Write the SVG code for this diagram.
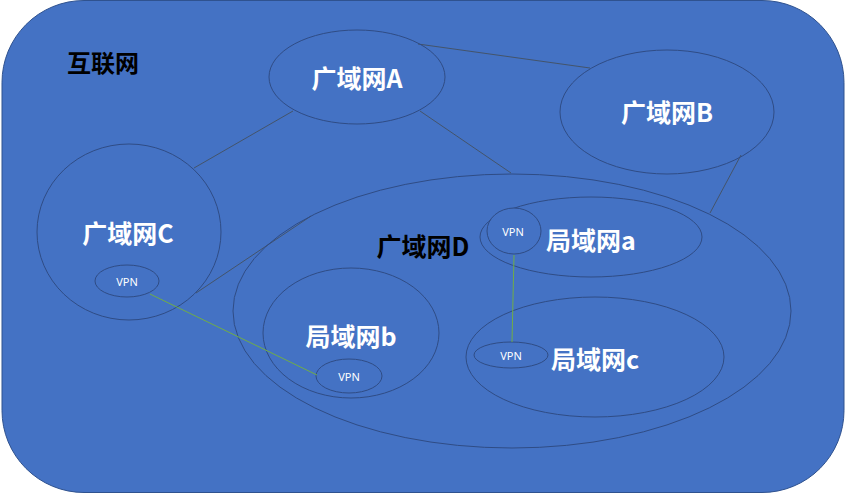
<svg xmlns="http://www.w3.org/2000/svg" width="846" height="494" viewBox="0 0 846 494">
<style>
.bg{fill:#4472C4;stroke:#2F528F;stroke-width:1}
.e{fill:none;stroke:#2F4C85;stroke-width:1}
.ef{fill:#4472C4;stroke:#2F4C85;stroke-width:1}
.ln{stroke:#44546A;stroke-width:1;fill:none}
.gl{stroke:#70AD47;stroke-width:1;fill:none}
.t{font-family:"Noto Sans CJK SC","Noto Sans",sans-serif;font-weight:bold;font-size:25px;text-anchor:middle;dominant-baseline:central}
.w{fill:#FFFFFF}
.k{fill:#000000}
.v{font-family:"Noto Sans","Open Sans",sans-serif;font-size:11px;fill:#FFFFFF;text-anchor:middle;dominant-baseline:central}
</style>
<rect class="bg" x="2" y="0.5" width="842" height="492" rx="82" ry="82"/>
<g id="internet"><text class="t k" x="103" y="61" style="font-size:24px">互联网</text></g>
<g id="connectors">
<line class="ln" x1="418" y1="44" x2="590" y2="68"/>
<line class="ln" x1="293" y1="111" x2="194" y2="168"/>
<line class="ln" x1="420" y1="111" x2="511" y2="173"/>
<line class="ln" x1="741" y1="155" x2="710" y2="213"/>
<line class="ln" x1="196" y1="293" x2="311" y2="216"/>
</g>
<g id="wanA"><ellipse class="e" cx="357" cy="77" rx="88" ry="47"/><text class="t w" x="357" y="77">广域网A</text></g>
<g id="wanB"><ellipse class="e" cx="667" cy="112" rx="107" ry="62"/><text class="t w" x="667" y="111">广域网B</text></g>
<g id="wanC"><ellipse class="e" cx="129" cy="232" rx="92" ry="88"/><text class="t w" x="128" y="232">广域网C</text>
<g id="vpnC"><ellipse class="e" cx="127" cy="281" rx="32" ry="16"/><text class="v" x="127" y="281">VPN</text></g></g>
<g id="wanD"><ellipse class="e" cx="512" cy="311" rx="279" ry="137"/><text class="t k" x="423" y="245">广域网D</text></g>
<g id="lanA"><ellipse class="e" cx="591" cy="237" rx="111" ry="40"/><text class="t w" x="591" y="239">局域网a</text>
<g id="vpnA"><ellipse class="ef" cx="514" cy="231" rx="27" ry="23"/><text class="v" x="513" y="231">VPN</text></g></g>
<g id="lanB"><ellipse class="e" cx="351" cy="333" rx="88" ry="65"/><text class="t w" x="351" y="335">局域网b</text>
<g id="vpnB"><ellipse class="e" cx="349" cy="376" rx="33" ry="17"/><text class="v" x="349" y="376">VPN</text></g></g>
<g id="lanC"><ellipse class="e" cx="595" cy="357" rx="129" ry="60"/><text class="t w" x="595" y="358">局域网c</text>
<g id="vpnCc"><ellipse class="e" cx="511" cy="355" rx="37" ry="13"/><text class="v" x="511" y="355">VPN</text></g></g>
<g id="vpn-links">
<line class="gl" x1="150" y1="294" x2="317" y2="375"/>
<line class="gl" x1="514" y1="255" x2="512" y2="342"/>
</g>
</svg>
